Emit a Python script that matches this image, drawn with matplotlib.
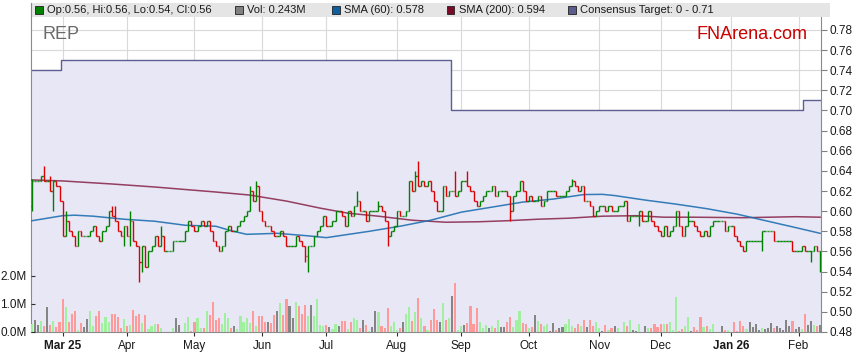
import numpy as np
import pandas as pd
import matplotlib
matplotlib.use("Agg")
import matplotlib.pyplot as plt
from matplotlib.patches import Rectangle
from matplotlib.lines import Line2D

plt.rcParams['font.family'] = ['Liberation Sans', 'DejaVu Sans']

# closing prices (in 0.001 units), one per weekday starting 17 Feb 2025
close_milli = [
    630, 630, 630, 635, 630, 630, 620, 630, 625, 610,
    575, 590, 580, 575, 565, 580, 575, 575, 575, 580,
    585, 575, 570, 580, 585, 600, 595, 590, 580, 575,
    585, 575, 590, 570, 565, 550, 565, 545, 560, 565,
    575, 565, 575, 560, 560, 560, 570, 570, 570, 570,
    580, 590, 585, 580, 585, 590, 585, 590, 580, 570,
    565, 560, 565, 580, 585, 580, 580, 585, 590, 595,
    600, 620, 610, 625, 600, 590, 585, 585, 580, 575,
    575, 580, 575, 565, 565, 565, 575, 570, 565, 555,
    565, 565, 575, 580, 585, 595, 585, 585, 590, 600,
    600, 595, 585, 600, 595, 605, 610, 600, 600, 590,
    600, 600, 600, 605, 600, 590, 575, 580, 585, 600,
    595, 595, 600, 630, 620, 635, 625, 630, 625, 630,
    620, 610, 600, 600, 625, 615, 620, 620, 615, 620,
    630, 630, 625, 620, 610, 605, 610, 615, 620, 620,
    625, 615, 620, 620, 620, 615, 600, 615, 620, 630,
    620, 610, 615, 610, 610, 615, 605, 610, 620, 620,
    620, 615, 615, 615, 620, 625, 630, 625, 620, 625,
    610, 610, 605, 595, 600, 605, 605, 600, 605, 600,
    600, 605, 605, 610, 590, 595, 595, 595, 600, 590,
    590, 600, 590, 585, 580, 575, 585, 575, 580, 585,
    600, 585, 575, 585, 590, 590, 585, 580, 575, 580,
    575, 585, 590, 590, 590, 590, 580, 585, 585, 575,
    570, 565, 560, 570, 570, 570, 570, 570, 580, 580,
    580, 580, 570, 570, 570, 570, 570, 570, 560, 560,
    560, 565, 560, 560, 560, 565, 560, 560,
]
first_open = 0.605

# highs / lows that reach past the open-close range
wick_hi = {0: 632, 4: 645, 6: 635, 11: 600, 26: 605, 27: 605, 32: 600, 42: 585,
           71: 625, 73: 630, 106: 620, 113: 610, 125: 640, 126: 650, 138: 640,
           142: 640, 176: 632, 214: 600}
wick_lo = {0: 600, 7: 600, 30: 565, 32: 565, 35: 530, 36: 540, 89: 550, 90: 540,
           116: 565, 156: 590, 198: 585, 238: 560, 254: 550, 257: 540}

# volume, millions
vol_m = [
    .29, .43, .25, .39, .21, .89, .25, .39, .18, .36,
    1.19, .89, .36, .64, .75, .07, .32, .18, .46, .75,
    .21, .57, .75, .32, .54, .36, .64, .64, .54, .14,
    .46, .21, .25, .79, .57, .64, .32, .61, .11, .21,
    .29, .29, .14, 0, 0, 0, .14, .50, .25, 0,
    .32, .54, .05, .36, .50, .14, .14, .75, .61, 1.07,
    .43, .50, .29, .68, .50, .14, .21, .11, .57, .36,
    .50, .32, .75, .21, .57, .57, .36, .36, .32, .61,
    .75, 1.04, .61, 1.18, .93, .50, 1.07, .93, .64, .96,
    .57, .96, .57, 1.18, .25, .21, .25, .18, .11, .29,
    .21, .39, .39, .11, .36, .50, .43, .14, .43, .25,
    .05, .18, .75, .71, .21, .14, .86, .21, .36, .07,
    .14, .36, .64, .89, .39, .71, 1.21, .50, .21, .07,
    .43, .82, .43, .36, 1.04, .43, .50, 1.29, 1.75, .07,
    .21, .25, .32, .93, .29, .86, .36, .14, .25, .14,
    .21, .14, .43, .18, .18, .36, .54, .18, .43, .75,
    .32, .29, .14, .18, .61, .39, .29, .21, .29, .04,
    .32, .07, .14, .18, .29, .46, .21, .14, .29, .21,
    .43, .18, .43, .21, .36, .14, .04, .25, .07, .14,
    .21, .14, 0, .36, .21, .43, .07, .04, .29, 0,
    .21, .14, .14, .29, .18, .29, .29, .29, .36, .07,
    1.25, .04, .11, .21, .54, .04, .18, .07, .54, .18,
    .21, .11, .29, 0, 0, .21, .07, .07, 0, .36,
    .04, .39, .21, .11, .36, .18, .29, .07, .14, .11,
    .14, .32, .14, .21, .14, .07, .43, .21, .39, .11,
    .18, .11, .64, .25, .39, .25, .21, .243,
]

# moving averages at a few bars
sma60_idx = [0, 10, 14, 20, 30, 40, 50, 60, 65, 70, 80, 90, 96, 100, 110, 120, 130,
             140, 150, 160, 170, 180, 186, 190, 200, 210, 220, 230, 240, 250, 257]
sma60_val = [.5905, .5955, .596, .595, .592, .590, .586, .585, .5805, .577, .578,
             .5755, .5737, .5755, .580, .585, .591, .599, .604, .609, .612, .6165,
             .6167, .6155, .611, .607, .6025, .597, .590, .583, .578]
sma200_idx = [0, 10, 26, 40, 52, 60, 71, 83, 94, 103, 113, 124, 135, 146, 155, 165,
              175, 186, 197, 206, 216, 232, 249, 257]
sma200_val = [.631, .630, .627, .624, .621, .619, .616, .610, .603, .598, .595, .591,
              .589, .5895, .5905, .592, .593, .595, .5955, .594, .594, .5935, .5945, .594]

# consensus target: bar where each level starts
target_start = [0, 10, 137, 252]
target_val = [0.74, 0.75, 0.70, 0.71]

month_labels = ['Mar 25', 'Apr', 'May', 'Jun', 'Jul', 'Aug', 'Sep', 'Oct', 'Nov',
                'Dec', 'Jan 26', 'Feb']
price_ticks = [0.48, 0.50, 0.52, 0.54, 0.56, 0.58, 0.60, 0.62, 0.64, 0.66, 0.68,
               0.70, 0.72, 0.74, 0.76, 0.78]

# ---- prep ----
n = len(close_milli)
x = np.arange(n)
dates = pd.bdate_range('2025-02-17', periods=n)
per = dates.to_period('M')
month_idx = np.flatnonzero(per[1:] != per[:-1]) + 1

c = np.array(close_milli) / 1000
o = np.r_[first_open, c[:-1]]
h = np.maximum(o, c)
l = np.minimum(o, c)
for k, v in wick_hi.items():
    h[k] = max(h[k], v / 1000)
for k, v in wick_lo.items():
    l[k] = min(l[k], v / 1000)

GREEN, RED = '#008000', '#dd0000'
bar_col = np.where(c >= o, GREEN, RED)
vol_col = np.where(c > o, '#a0f0a0', np.where(c < o, '#ff9a9a', '#858585'))

tgt = np.array(target_val)[np.searchsorted(target_start, x, side='right') - 1]
xe = np.r_[x - 0.5, n - 0.5]
te = np.r_[tgt, tgt[-1]]

# ---- figure ----
W, H = 859, 363
fig = plt.figure(figsize=(W / 100, H / 100), dpi=100)
fig.patch.set_facecolor('white')
L, R, T, B = 31, 821, 17, 332
rect = [L / W, 1 - B / H, (R - L) / W, (B - T) / H]

ax = fig.add_axes(rect)
ax.set_facecolor('white')
ax.set_xlim(-0.3, n - 0.7)
ax.set_ylim(0.48, 0.48 + (B - T) / 1007)
ax.set_axisbelow(True)
ax.grid(True, color='#d9d9d9', lw=0.8)
ax.fill_between(xe, 0.48, te, step='post', color='#e7e7f6', lw=0, zorder=1)
ax.step(xe, te, where='post', color='#5e5e90', lw=1.0, zorder=2)

# volume on the left scale (twinx flips the main axis ticks, so set them after)
axv = ax.twinx()
axv.patch.set_visible(False)
axv.set_ylim(0, (B - T) / 28)
axv.bar(x, vol_m, width=0.68, color=vol_col, lw=0)
axv.yaxis.tick_left()
axv.set_yticks([0, 1, 2])
axv.set_yticklabels(['0.0M', '1.0M', '2.0M'])
axv.tick_params(axis='y', direction='in', length=3, pad=3, labelsize=8.5,
                color='#303030', labelcolor='#1a1a1a')
for s in axv.spines.values():
    s.set_visible(False)

ax.yaxis.tick_right()
ax.set_yticks(price_ticks)
ax.set_yticklabels([f'{v:.2f}' for v in price_ticks])
ax.tick_params(axis='y', which='both', left=False, labelleft=False, right=True,
               labelright=True, direction='out', length=4, pad=2, labelsize=8.5,
               color='#808080', labelcolor='#1a1a1a')
ax.set_xticks(month_idx)
ax.set_xticklabels(month_labels)
ax.tick_params(axis='x', direction='out', length=3, pad=3, labelsize=8.5,
               color='#303030', labelcolor='#1a1a1a')
for t in ax.get_xticklabels():
    if ' ' in t.get_text():
        t.set_fontweight('bold')
for s in ['left', 'right', 'bottom']:
    ax.spines[s].set_color('#8a8a8a')
ax.spines['top'].set_visible(False)

# price bars and moving averages on top
axp = fig.add_axes(rect, sharex=ax, sharey=ax)
axp.patch.set_visible(False)
axp.axis('off')
axp.plot(sma200_idx, sma200_val, color='#80143a', lw=1.1, alpha=0.8)
axp.plot(sma60_idx, sma60_val, color='#2070b0', lw=1.1, alpha=0.9)
axp.vlines(x, l, h, colors=bar_col, lw=1.0)
axp.hlines(o, x - 0.45, x, colors=bar_col, lw=1.0)
axp.hlines(c, x, x + 0.45, colors=bar_col, lw=1.0)

# legend strip on top
fig.add_artist(Rectangle((L / W, 1 - T / H), (830 - L) / W, 14 / H,
                         transform=fig.transFigure, facecolor='#e5e5e5',
                         edgecolor='none'))
fig.add_artist(Line2D([L / W, L / W], [1 - T / H, 1 - 3 / H],
                      transform=fig.transFigure, color='#8a8a8a', lw=0.8))
legend_items = [
    (35, 'Op:0.56, Hi:0.56, Lo:0.54, Cl:0.56', '#008000'),
    (235, 'Vol: 0.243M', '#808080'),
    (332, 'SMA (60): 0.578', '#0f5e9e'),
    (447, 'SMA (200): 0.594', '#7a0a28'),
    (568, 'Consensus Target: 0 - 0.71', '#5c5c8c'),
]
for px, txt, col in legend_items:
    fig.add_artist(Rectangle((px / W, 1 - 13.5 / H), 7.5 / W, 7.5 / H,
                             transform=fig.transFigure, facecolor=col,
                             edgecolor='#202020', lw=0.6))
    fig.text((px + 12) / W, 1 - 10 / H, txt, fontsize=8, va='center',
             ha='left', color='#1a1a1a')

fig.text(42 / W, 1 - 39 / H, 'REP', fontsize=13, color='#6a6a6a',
         va='baseline', ha='left')
fig.text(808 / W, 1 - 39 / H, 'FNArena.com', fontsize=13, color='#cc0000',
         va='baseline', ha='right')

fig.savefig('out.png', dpi=100)
